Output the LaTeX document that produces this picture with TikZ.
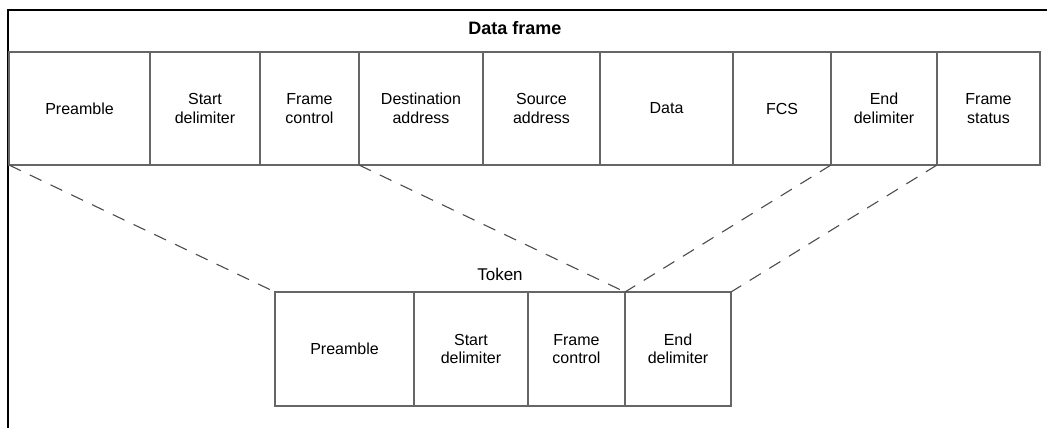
\documentclass[tikz,border=0pt]{standalone}
\usepackage{fontspec}
\setmainfont{Liberation Sans}
\usetikzlibrary{shapes}
\tikzset{
    cell/.style = {rectangle, draw=black!60, line width=1.3pt, inner sep=0pt, outer sep=0pt, minimum height=113pt, align=center, font=\fontsize{16}{18.5}\selectfont},
    tcell/.style = {cell, minimum height=114pt},
    title/.style = {draw=none, font=\fontsize{18}{20}\selectfont\bfseries},
    ttitle/.style = {draw=none, font=\fontsize{17}{20}\selectfont},
    edgedash/.style = {draw=black!70, line width=1.1pt, dash pattern=on 13pt off 10pt}, % mapping
    border/.style = {draw=black, line width=2pt}
}
\begin{document}
\begin{tikzpicture}[x=1pt,y=-1pt]
\useasboundingbox (0,0) rectangle (1047,428);
\draw[border] (8,428) -- (8,10) -- (1047,10);
%
\node[title] at (515,28) (dftitle) {Data frame};
\node[cell, minimum width=141pt] at (79.5,108.5) (pre) {Preamble};
\node[cell, minimum width=110pt] at (205,108.5) (sd) {Start\\delimiter};
\node[cell, minimum width=99pt] at (309.5,108.5) (fc) {Frame\\control};
\node[cell, minimum width=124pt] at (421,108.5) (da) {Destination\\address};
\node[cell, minimum width=117pt] at (541.5,108.5) (sa) {Source\\address};
\node[cell, minimum width=133pt] at (666.5,108.5) (data) {Data};
\node[cell, minimum width=98pt] at (782,108.5) (fcs) {FCS};
\node[cell, minimum width=106pt] at (884,108.5) (ed) {End\\delimiter};
\node[cell, minimum width=103pt] at (988.5,108.5) (fs) {Frame\\status};
%
\node[ttitle] at (500,274) (tktitle) {Token};
\node[tcell, minimum width=139pt] at (344.5,349) (tpre) {Preamble};
\node[tcell, minimum width=114pt] at (471,349) (tsd) {Start\\delimiter};
\node[tcell, minimum width=97pt] at (576.5,349) (tfc) {Frame\\control};
\node[tcell, minimum width=106pt] at (678,349) (ted) {End\\delimiter};
%
\draw[edgedash] (pre.south west) -- (tpre.north west);
\draw[edgedash] (da.south west) -- (ted.north west);
\draw[edgedash] (ed.south west) -- (ted.north west);
\draw[edgedash] (fs.south west) -- (ted.north east);
\end{tikzpicture}
\end{document}
